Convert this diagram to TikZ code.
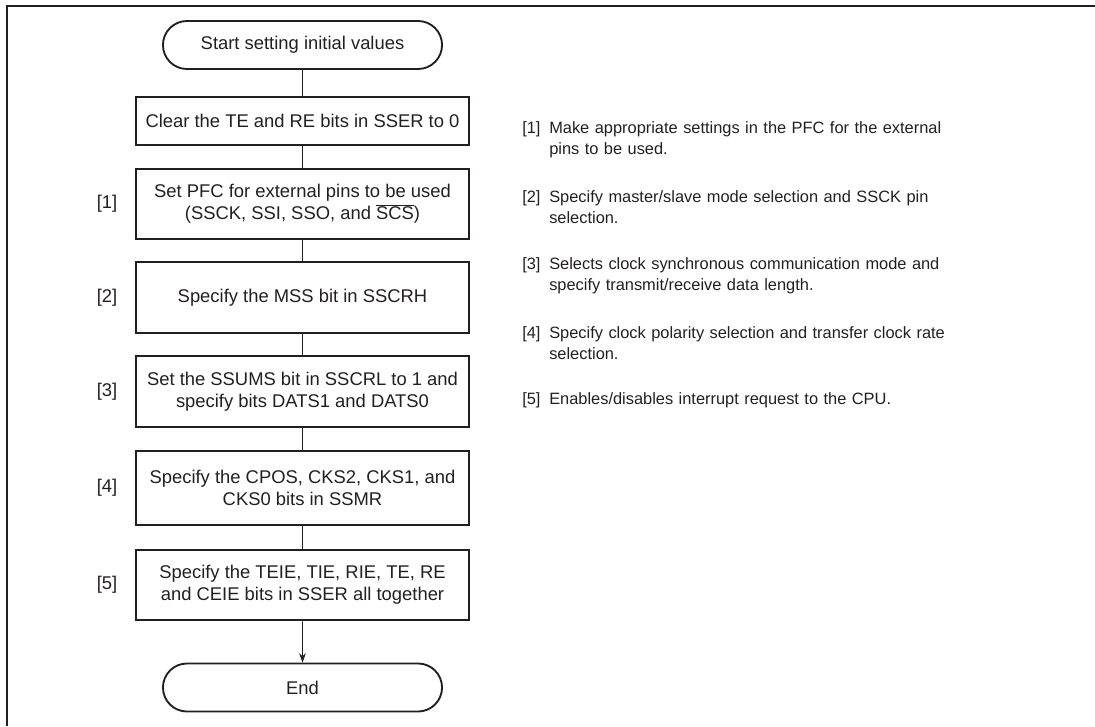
\documentclass[tikz,border=0pt]{standalone}
\usepackage{fontspec}
\setmainfont{Liberation Sans}
\usetikzlibrary{shapes.misc,arrows.meta}
\definecolor{tinta}{RGB}{35,31,32}
\newcommand{\letra}{\fontsize{13.8}{16.5}\selectfont}
\newcommand{\notatexto}[2]{\noindent\hangindent=20.25pt\hangafter=1\makebox[20.25pt][l]{#1}#2\par}

\begin{document}
\begin{tikzpicture}[x=0.75pt, y=-0.75pt, >={Stealth[length=7pt,width=5pt]},
    paso/.style={draw=tinta, line width=1.4pt, minimum width=250pt, minimum height=53pt,
        align=center, text=tinta, font=\letra},
    terminal/.style={draw=tinta, line width=1.4pt, rounded rectangle, minimum width=216pt,
        minimum height=36pt, text=tinta, font=\letra},
    etiqueta/.style={text=tinta, font=\letra},
    nota/.style={anchor=north west, inner sep=0pt, text width=340pt, align=left,
        text=tinta, font=\fontsize{12.3}{15.75}\selectfont},
    conector/.style={draw=tinta, line width=0.6pt}]
    \useasboundingbox (0,0) rectangle (1095,726);

    % Marco (solo arriba e izquierda)
    \draw[tinta, line width=1.6pt] (7,726) -- (7,6) -- (1095,6);

    % Diagrama de flujo
    \node[terminal] (inicio) at (302.5,45) {Start setting initial values};
    \node[paso, minimum height=36pt] (borrar) at (302.5,121) {Clear the TE and RE bits in SSER to 0};
    \node[paso] (pfc) at (302.5,204) {Set PFC for external pins to be used\\(SSCK, SSI, SSO, and $\overline{\mbox{SCS}}$)};
    \node[paso] (mss) at (302.5,297.5) {Specify the MSS bit in SSCRH};
    \node[paso] (ssums) at (302.5,391.5) {Set the SSUMS bit in SSCRL to 1 and\\specify bits DATS1 and DATS0};
    \node[paso, minimum height=55pt] (cpos) at (302.5,488) {Specify the CPOS, CKS2, CKS1, and\\CKS0 bits in SSMR};
    \node[paso] (teie) at (302.5,585) {Specify the TEIE, TIE, RIE, TE, RE\\and CEIE bits in SSER all together};
    \node[terminal] (fin) at (302.5,687.5) {End};

    % Conectores
    \foreach \a/\b in {inicio/borrar, borrar/pfc, pfc/mss, mss/ssums, ssums/cpos, cpos/teie}
        \draw[conector] (\a) -- (\b);
    \draw[conector, ->] (teie) -- (fin);

    % Etiquetas [n] a la izquierda
    \node[etiqueta] (e1) at (107,204) {[1]};
    \node[etiqueta] (e2) at (107,297.5) {[2]};
    \node[etiqueta] (e3) at (107,391.5) {[3]};
    \node[etiqueta] (e4) at (107,488) {[4]};
    \node[etiqueta] (e5) at (107,585) {[5]};

    % Notas a la derecha
    \node[nota] (n1) at (522,121) {\notatexto{[1]}{Make appropriate settings in the PFC for the external\newline pins to be used.}};
    \node[nota] (n2) at (522,190) {\notatexto{[2]}{Specify master/slave mode selection and SSCK pin\newline selection.}};
    \node[nota] (n3) at (522,257) {\notatexto{[3]}{Selects clock synchronous communication mode and\newline specify transmit/receive data length.}};
    \node[nota] (n4) at (522,326) {\notatexto{[4]}{Specify clock polarity selection and transfer clock rate\newline selection.}};
    \node[nota] (n5) at (522,392) {\notatexto{[5]}{Enables/disables interrupt request to the CPU.}};

\end{tikzpicture}
\end{document}
